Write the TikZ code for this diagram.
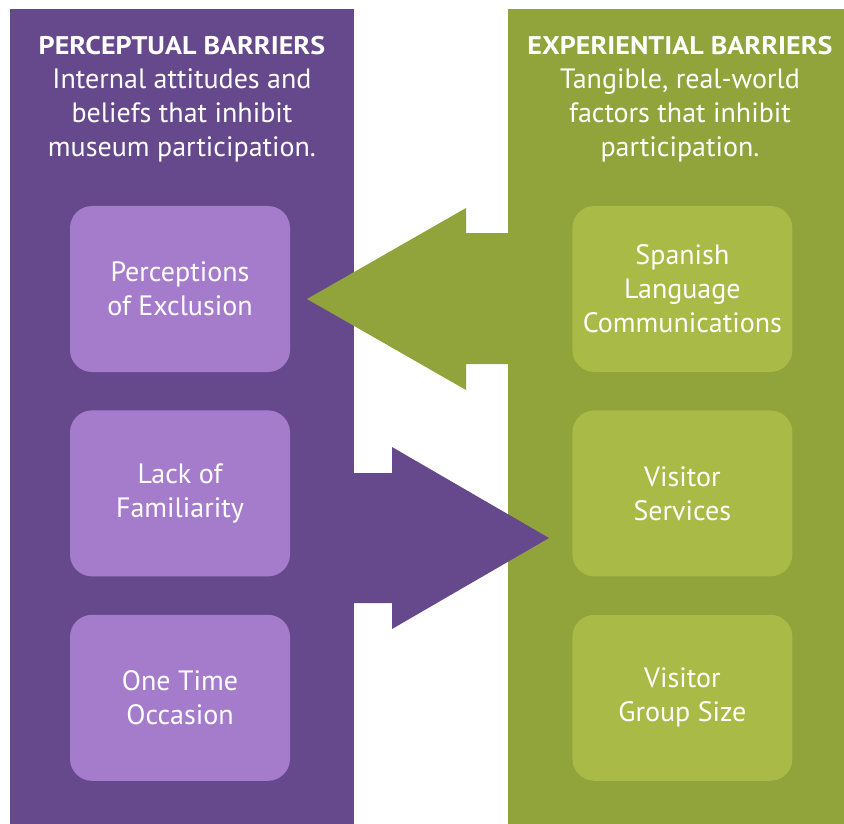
\documentclass[tikz,border=0pt]{standalone}
\usepackage{fontspec}
\setmainfont{PT Sans}
\newfontfamily\titlefont[FakeStretch=1.1]{PT Sans Bold}
\usepackage{tikz}
\usetikzlibrary{positioning, calc}
\definecolor{percdark} {RGB}{102, 73,140}
\definecolor{perclight}{RGB}{165,124,203}
\definecolor{expdark}  {RGB}{145,163, 59}
\definecolor{explight} {RGB}{169,186, 70}

\tikzset{
	barbox/.style={rounded corners=22pt, minimum width=220pt, minimum height=166pt,
		inner sep=0pt, align=center, text=white, font=\fontsize{28}{34}\selectfont},
	headtext/.style={align=center, text=white, inner sep=0pt,
		font=\fontsize{28}{34}\selectfont}
}

\begin{document}
\begin{tikzpicture}[x=1pt,y=-1pt]
	\useasboundingbox (0,0) rectangle (844,824);
	% the two columns
	\fill[percdark] (10,9) rectangle (354,824);
	\fill[expdark] (508,9) rectangle (844,824);
	% block arrows between them
	\fill[expdark] (508,233)--(466,233)--(466,208)--(307,299)--(466,390)--(466,364)--(508,364)--cycle;
	\fill[percdark] (354,473)--(392,473)--(392,447)--(549,538)--(392,629)--(392,603)--(354,603)--cycle;
	% headings (base = last line)
	\node[headtext, anchor=base] (perchead) at (182,157)
		{{\titlefont\fontsize{25.5}{34}\selectfont PERCEPTUAL BARRIERS}\\Internal attitudes and\\beliefs that inhibit\\museum participation.};
	\node[headtext, anchor=base] (exphead) at (680,157)
		{{\titlefont\fontsize{25.5}{34}\selectfont EXPERIENTIAL BARRIERS}\\Tangible, real-world\\factors that inhibit\\participation.};
	% barrier boxes
	\node[barbox, fill=perclight] (exclusion) at (180,289) {Perceptions\\of Exclusion};
	\node[barbox, fill=perclight, below=38pt of exclusion] (familiarity) {Lack of\\Familiarity};
	\node[barbox, fill=perclight, below=38pt of familiarity] (occasion) {One Time\\Occasion};
	\node[barbox, fill=explight, right=282pt of exclusion] (spanish) {Spanish\\Language\\Communications};
	\node[barbox, fill=explight, right=282pt of familiarity] (services) {Visitor\\Services};
	\node[barbox, fill=explight, right=282pt of occasion] (groupsize) {Visitor\\Group Size};
\end{tikzpicture}
\end{document}
